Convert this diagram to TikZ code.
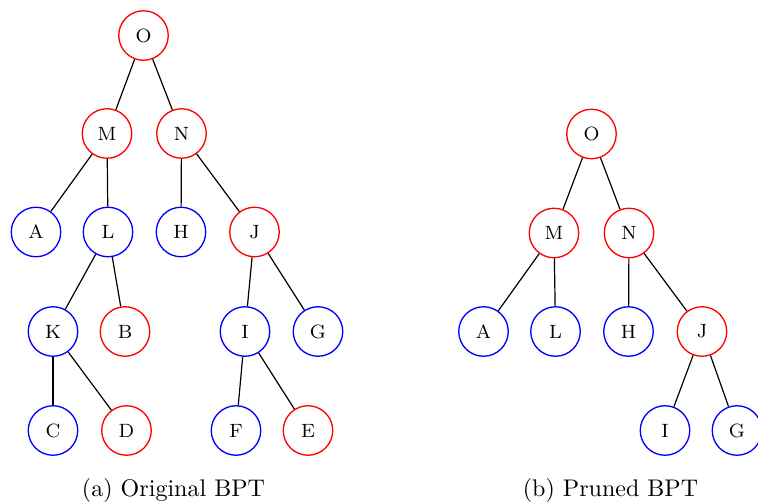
\documentclass[tikz,border=0pt]{standalone}
\begin{document}
\begin{tikzpicture}[x=0.416pt,y=-0.416pt,
  vtx/.style={circle,draw,line width=0.55pt,minimum size=49.5*0.416pt,inner sep=0pt,font=\footnotesize},
  kept/.style={vtx,draw=red},
  leaf/.style={vtx,draw=blue},
  link/.style={line width=0.5pt}]
\useasboundingbox (0,0) rectangle (758,504);

% (a) original tree
\node[kept] (aO) at (143.5,35.5) {O};
\node[kept] (aM) at (107,133.5) {M};
\node[kept] (aN) at (181.5,133.5) {N};
\node[leaf] (aA) at (36,232) {A};
\node[leaf] (aL) at (108,232) {L};
\node[leaf] (aH) at (181,232) {H};
\node[kept] (aJ) at (254.5,232) {J};
\node[leaf] (aK) at (53,331.5) {K};
\node[kept] (aB) at (125,331.5) {B};
\node[leaf] (aI) at (245,331.5) {I};
\node[leaf] (aG) at (318,331.5) {G};
\node[leaf] (aC) at (53,430.5) {C};
\node[kept] (aD) at (126.5,430.5) {D};
\node[leaf] (aF) at (236,430.5) {F};
\node[kept] (aE) at (308,430.5) {E};
\draw[link] (aO) -- (aM);
\draw[link] (aO) -- (aN);
\draw[link] (aM) -- (aA);
\draw[link] (aM) -- (aL);
\draw[link] (aN) -- (aH);
\draw[link] (aN) -- (aJ);
\draw[link] (aL) -- (aK);
\draw[link] (aL) -- (aB);
\draw[link] (aJ) -- (aI);
\draw[link] (aJ) -- (aG);
\draw[link] (aK) -- (aC);
\draw[link] (aK) -- (aD);
\draw[link] (aI) -- (aF);
\draw[link] (aI) -- (aE);
\node (capa) at (173.5,490) {(a) Original BPT};

% (b) pruned tree
\node[kept] (bO) at (591.5,134) {O};
\node[kept] (bM) at (554,233) {M};
\node[kept] (bN) at (629,233) {N};
\node[leaf] (bA) at (483.5,331.5) {A};
\node[leaf] (bL) at (555.5,331.5) {L};
\node[leaf] (bH) at (628.5,331.5) {H};
\node[kept] (bJ) at (702,331.5) {J};
\node[leaf] (bI) at (665,430.5) {I};
\node[leaf] (bG) at (737,430.5) {G};
\draw[link] (bO) -- (bM);
\draw[link] (bO) -- (bN);
\draw[link] (bM) -- (bA);
\draw[link] (bM) -- (bL);
\draw[link] (bN) -- (bH);
\draw[link] (bN) -- (bJ);
\draw[link] (bJ) -- (bI);
\draw[link] (bJ) -- (bG);
\node (capb) at (610.5,490) {(b) Pruned BPT};
\end{tikzpicture}
\end{document}
